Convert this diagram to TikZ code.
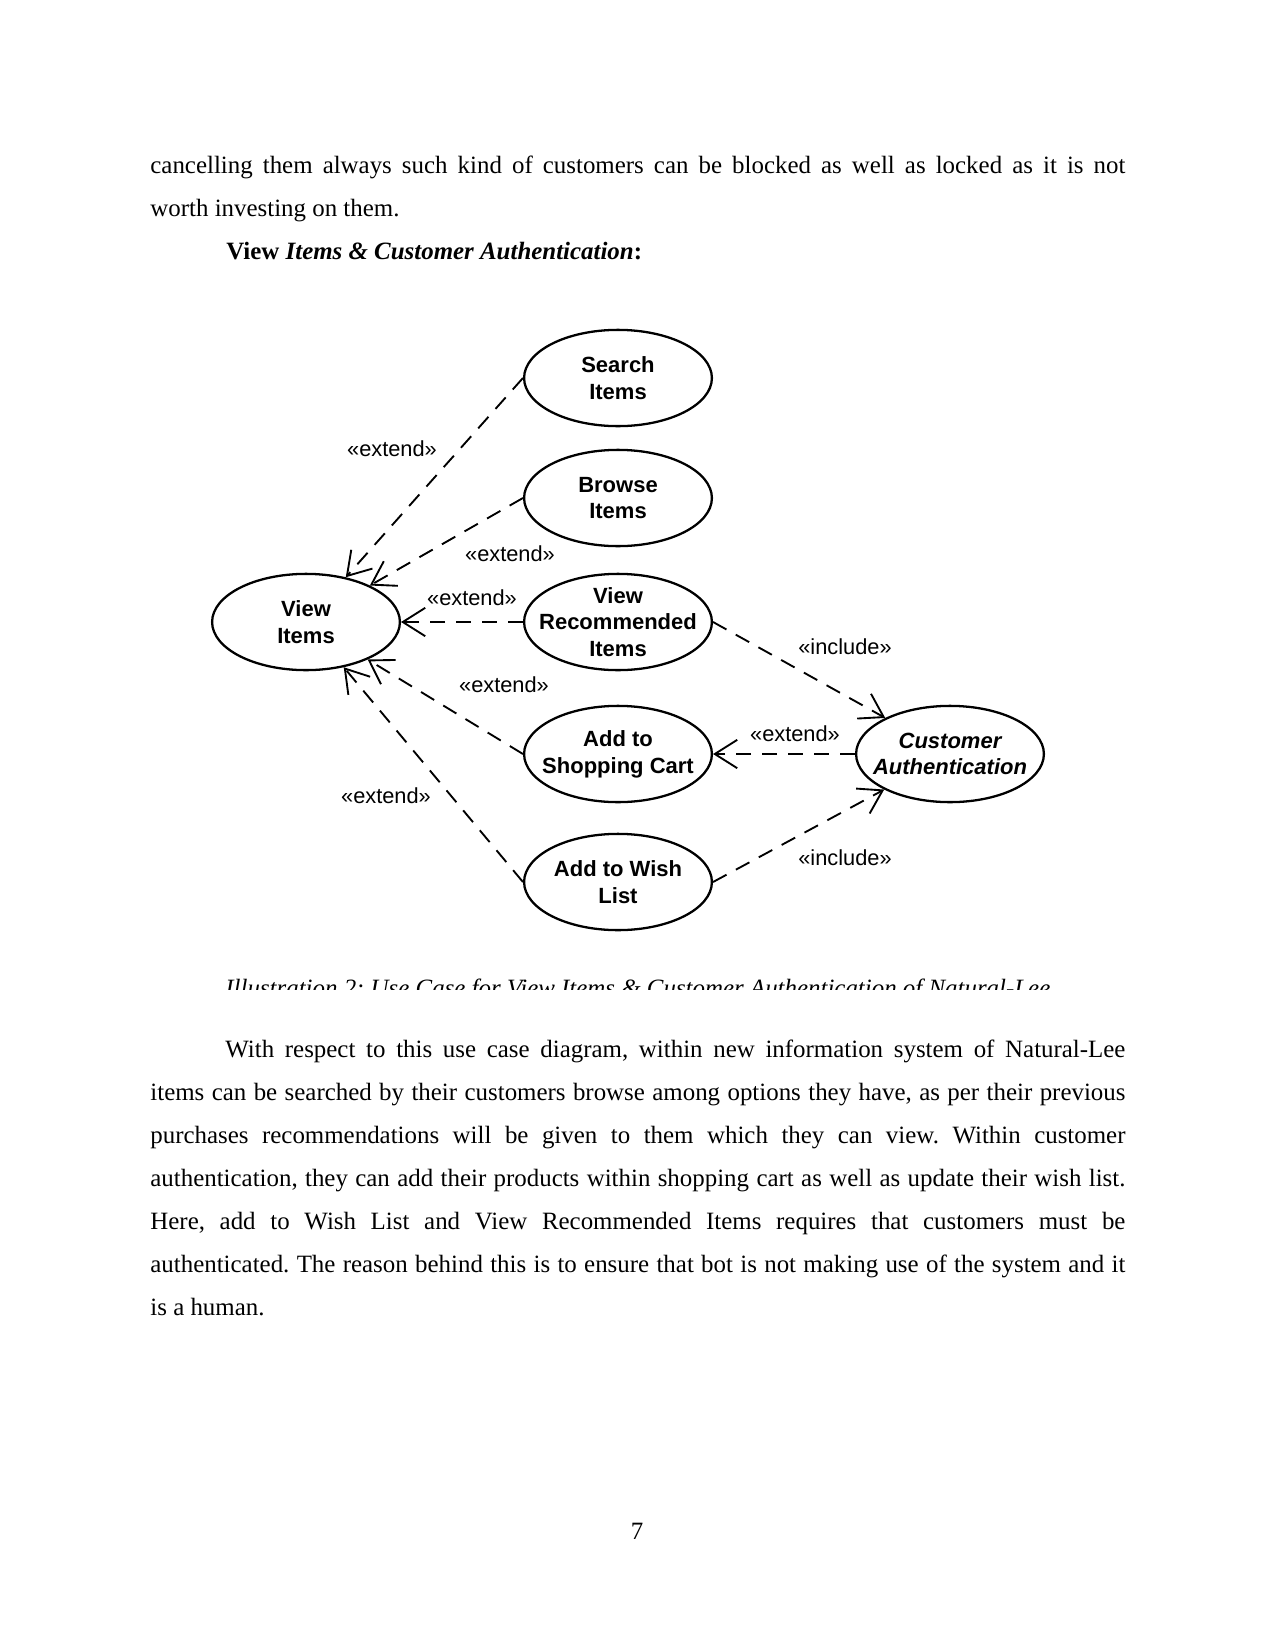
\documentclass[tikz,border=0pt]{standalone}
\usepackage{fontspec}
\setmainfont{Liberation Serif}
\newfontfamily\diagfont{Liberation Sans}
\usepackage{tikz}
\usetikzlibrary{shapes.geometric}
\usetikzlibrary{arrows.meta}
\frenchspacing

\newcommand{\jline}[1]{\makebox[6.5in][s]{#1}}

\begin{document}
\begin{tikzpicture}[x=0.16933mm,y=-0.16933mm,
  usecase/.style={ellipse,draw,line width=1.1pt,minimum width=31.8mm,minimum height=16.3mm,
    inner xsep=-12pt,inner ysep=-6pt,align=center,
    font=\diagfont\bfseries\fontsize{10.6}{12.9}\selectfont},
  dep/.style={dash pattern=on 2.6mm off 1.8mm,line width=0.9pt,
    -{Straight Barb[length=3.8mm,width=4.8mm]}},
  stereo/.style={font=\diagfont\fontsize{10.5}{12}\selectfont,inner sep=0pt},
  bodytext/.style={anchor=base west,inner sep=0pt,font=\fontsize{12}{14}\selectfont}]
\useasboundingbox (0,0) rectangle (1275,1650);
% text above the diagram
\node[bodytext] (top1) at (150,173) {\jline{cancelling them always such kind of customers can be blocked as well as locked as it is not}};
\node[bodytext] (top2) at (150,216) {worth investing on them.};
\node[bodytext] (head) at (226,259) {\textbf{View \textit{Items \& Customer Authentication}:}};
% use cases
\node[usecase] (srch) at (618,378) {Search\\Items};
\node[usecase] (brws) at (618,498) {Browse\\Items};
\node[usecase] (recm) at (618,622) {View\\Recommended\\Items};
\node[usecase] (view) at (306,622) {View\\Items};
\node[usecase] (cart) at (618,754) {Add to\\Shopping Cart};
\node[usecase] (wish) at (618,882) {Add to Wish\\List};
\node[usecase] (auth) at (950,754) {\itshape Customer\\\itshape Authentication};
% dependencies
\draw[dep] (srch.west) -- (view);
\draw[dep] (brws.west) -- (view);
\draw[dep] (recm.west) -- (view.east);
\draw[dep] (cart.west) -- (view);
\draw[dep] (wish.west) -- (view);
\draw[dep] (recm.east) -- (auth);
\draw[dep] (auth.west) -- (cart.east);
\draw[dep] (wish.east) -- (auth);
\node[stereo] (ext1) at (392,449) {«extend»};
\node[stereo] (ext2) at (510,554) {«extend»};
\node[stereo] (ext3) at (472,598) {«extend»};
\node[stereo] (ext4) at (504,685) {«extend»};
\node[stereo] (ext5) at (386,796) {«extend»};
\node[stereo] (inc1) at (845,647) {«include»};
\node[stereo] (ext6) at (795,734) {«extend»};
\node[stereo] (inc2) at (845,858) {«include»};
% caption, cut off at the bottom
\begin{scope}
\clip (0,960) rectangle (1275,989);
\node[bodytext] (capt) at (225,996) {\itshape Illustration 2: Use Case for View Items \& Customer Authentication of Natural-Lee};
\end{scope}
% text below the diagram
\node[bodytext] (bot1) at (225,1057) {\makebox[6in][s]{With respect to this use case diagram, within new information system of Natural-Lee}};
\node[bodytext] (bot2) at (150,1100) {\jline{items can be searched by their customers browse among options they have, as per their previous}};
\node[bodytext] (bot3) at (150,1143) {\jline{purchases recommendations will be given to them which they can view. Within customer}};
\node[bodytext] (bot4) at (150,1186) {\jline{authentication, they can add their products within shopping cart as well as update their wish list.}};
\node[bodytext] (bot5) at (150,1229) {\jline{Here, add to Wish List and View Recommended Items requires that customers must be}};
\node[bodytext] (bot6) at (150,1272) {\jline{authenticated. The reason behind this is to ensure that bot is not making use of the system and it}};
\node[bodytext] (bot7) at (150,1315) {is a human.};
\node[anchor=base,inner sep=0pt,font=\fontsize{12}{14}\selectfont] (pgno) at (637,1539) {7};
\end{tikzpicture}
\end{document}
